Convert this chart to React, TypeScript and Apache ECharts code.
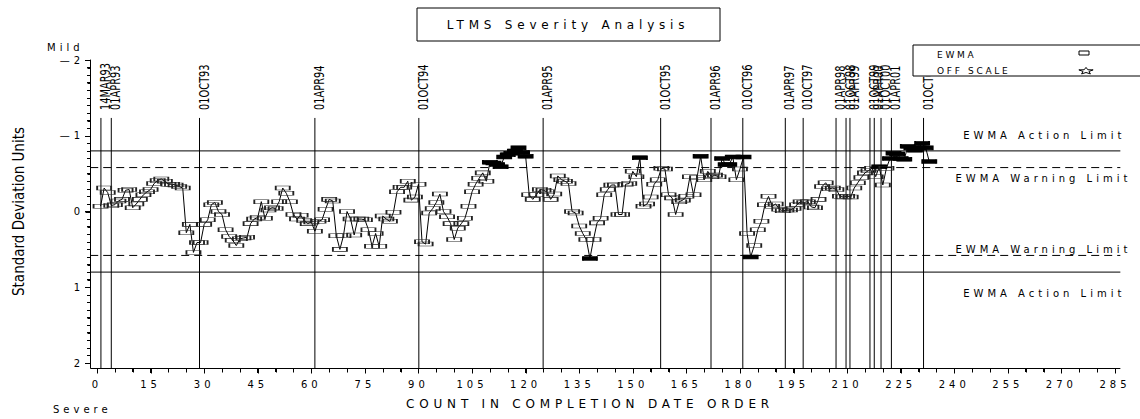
import React, { useEffect, useRef } from 'react';
import * as echarts from 'echarts';

// ---------- DATA ----------
const EWMA_VALUES: number[] = [
  -0.07, -0.31, -0.25, -0.08, -0.09, -0.14, -0.16, -0.28, -0.29, -0.05,
  -0.10, -0.16, -0.22, -0.26, -0.29, -0.37, -0.41, -0.43, -0.40, -0.36,
  -0.36, -0.35, -0.33, -0.31, 0.28, 0.17, 0.54, 0.41, 0.41, 0.17,
  0.11, -0.09, -0.12, 0.00, 0.04, 0.24, 0.33, 0.38, 0.45, 0.36,
  0.35, 0.34, 0.16, 0.10, 0.08, -0.13, 0.09, -0.02, -0.05, -0.04,
  -0.13, -0.31, -0.24, -0.13, 0.04, 0.10, 0.05, 0.12, 0.16, 0.14,
  0.26, 0.13, 0.11, -0.03, -0.16, -0.14, 0.32, 0.50, 0.32, 0.00,
  0.10, 0.31, 0.10, 0.10, 0.11, 0.24, 0.46, 0.29, 0.46, 0.06,
  0.10, 0.13, 0.01, -0.26, -0.32, -0.32, -0.40, -0.15, -0.19, -0.36,
  0.40, 0.43, 0.02, -0.04, -0.12, -0.23, 0.00, 0.07, 0.16, 0.37,
  0.22, 0.16, 0.09, -0.07, -0.26, -0.36, -0.44, -0.51, -0.40, -0.65,
  -0.64, -0.62, -0.59, -0.72, -0.75, -0.77, -0.80, -0.84, -0.78, -0.73,
  -0.22, -0.16, -0.22, -0.29, -0.28, -0.26, -0.16, -0.23, -0.47, -0.42,
  -0.40, -0.37, 0.00, 0.02, 0.19, 0.29, 0.37, 0.62, 0.37, 0.15,
  0.09, -0.22, -0.29, -0.35, -0.35, 0.04, 0.04, -0.36, -0.37, -0.53,
  -0.46, -0.71, -0.07, -0.10, -0.19, -0.36, -0.42, -0.57, -0.56, -0.22,
  -0.18, 0.04, -0.13, -0.15, -0.20, -0.46, -0.22, -0.45, -0.73, -0.42,
  -0.53, -0.46, -0.48, -0.46, -0.70, -0.62, -0.62, -0.72, -0.42, -0.56,
  -0.72, 0.29, 0.60, 0.45, 0.24, 0.13, -0.09, -0.20, -0.07, -0.10,
  -0.03, -0.01, -0.02, -0.02, -0.04, -0.09, -0.13, -0.12, -0.13, -0.06,
  -0.05, -0.16, -0.33, -0.38, -0.30, -0.31, -0.29, -0.20, -0.19, -0.20,
  -0.19, -0.31, -0.38, -0.45, -0.51, -0.54, -0.57, -0.46, -0.59, -0.35,
  -0.57, -0.70, -0.77, -0.76, -0.70, -0.69, -0.86, -0.84, -0.81, -0.84,
  -0.90, -0.84, -0.66,
];
const COUNTS: number[] = EWMA_VALUES.map((_, i) => i + 1);

const DATE_LINE_COUNTS: number[] = [
  1.1, 4, 28.7, 61, 90.1, 124.9, 157.8, 171.9, 180.8, 192.7,
  197.7, 206.9, 209.7, 210.8, 216.4, 217.6, 219.5, 222.4, 231.4,
];
const DATE_LABELS: string[] = [
  '14MAR93', '01APR93', '01OCT93', '01APR94', '01OCT94', '01APR95', '01OCT95',
  '01APR96', '01OCT96', '01APR97', '01OCT97', '01APR98', '01OCT98', '01APR99',
  '01OCT99', '01APR00', '01OCT00', '01APR01', '01OCT01',
];

const ACTION_LIMIT = 0.8;
const WARNING_LIMIT = 0.58;
const LIMIT_VALUES: number[] = [-ACTION_LIMIT, -WARNING_LIMIT, WARNING_LIMIT, ACTION_LIMIT];
const LIMIT_TEXTS: string[] = ['EWMA Action Limit', 'EWMA Warning Limit', 'EWMA Warning Limit', 'EWMA Action Limit'];

const X_MIN = 0;
const X_MAX = 285;
const X_INTERVAL = 15;
const X_MINOR_STEP = 5;
const Y_MIN = -2;
const Y_MAX = 2;
const Y_INTERVAL = 1;
const Y_MINOR_PER_UNIT = 10;

const TITLE = 'LTMS Severity Analysis';
const X_NAME = 'COUNT IN COMPLETION DATE ORDER';
const Y_NAME = 'Standard Deviation Units';
const LEGEND_ITEMS = ['EWMA', 'OFF SCALE'];

// ---------- STYLE ----------
const WIDE = 'Verdana, "DejaVu Sans", sans-serif';
const WIDE2 = 'Tahoma, "DejaVu Sans", sans-serif';
const NARROW = '"Liberation Sans Narrow", "DejaVu Sans Condensed", "Arial Narrow", sans-serif';

const LIMIT_X_FROM = -1.9;
const LIMIT_X_TO = 286.5;
const LIMIT_DASH: (number[] | null)[] = [null, [8, 5], [8, 5], null];
const LIMIT_LABEL_DY: number[] = [-15.5, 10.5, -5.5, 21];
const LIMIT_LABEL_DX: number[] = [5, 11, 11, 5];
const X_AXIS_OFFSET = 5;
const Y_AXIS_OFFSET = 7;

const css = `
body { margin: 0; }
text[style*="Verdana"] { letter-spacing: 0.4em; }
text[style*="Tahoma"] { letter-spacing: 0.3em; }
`;

function starPoints(cx: number, cy: number, rx: number, ry: number): number[][] {
  const pts: number[][] = [];
  for (let i = 0; i < 10; i++) {
    const a = -Math.PI / 2 + (i * Math.PI) / 5;
    const f = i % 2 === 0 ? 1 : 0.42;
    pts.push([cx + Math.cos(a) * rx * f, cy + Math.sin(a) * ry * f]);
  }
  return pts;
}

const crisp = (v: number) => Math.round(v) + 0.5;

function baseGraphic(): any[] {
  return [
    {
      type: 'rect',
      shape: { x: 417, y: 8, width: 303, height: 33 },
      style: { fill: '#fff', stroke: '#000', lineWidth: 1 },
      z: 10,
    },
    {
      type: 'text',
      x: 568,
      y: 25,
      z: 11,
      style: { text: TITLE, fill: '#000', font: `12px ${WIDE}`, align: 'center', verticalAlign: 'middle' },
    },
    {
      type: 'rect',
      shape: { x: 913, y: 45, width: 240, height: 31 },
      style: { fill: '#fff', stroke: '#000', lineWidth: 1 },
      z: 100,
    },
    {
      type: 'text',
      x: 937,
      y: 55,
      z: 101,
      style: { text: LEGEND_ITEMS[0], fill: '#000', font: `9px ${WIDE2}`, align: 'left', verticalAlign: 'middle' },
    },
    {
      type: 'text',
      x: 937,
      y: 71,
      z: 101,
      style: { text: LEGEND_ITEMS[1], fill: '#000', font: `9px ${WIDE2}`, align: 'left', verticalAlign: 'middle' },
    },
    {
      type: 'rect',
      shape: { x: 1079, y: 51, width: 10, height: 4 },
      style: { fill: 'none', stroke: '#000', lineWidth: 1 },
      z: 101,
    },
    {
      type: 'polygon',
      shape: { points: starPoints(1086, 71, 7.5, 3.6) },
      style: { fill: 'none', stroke: '#000', lineWidth: 1 },
      z: 101,
    },
    {
      type: 'text',
      x: 47,
      y: 47,
      style: { text: 'Mild', fill: '#000', font: `10px ${WIDE}`, align: 'left', verticalAlign: 'middle' },
    },
    {
      type: 'text',
      x: 53,
      y: 409,
      style: { text: 'Severe', fill: '#000', font: `10px ${WIDE}`, align: 'left', verticalAlign: 'middle' },
    },
  ];
}

function buildOption(): any {
  const hollow = { color: 'transparent', borderColor: '#222', borderWidth: 1 };
  const filled = { color: '#000', borderColor: '#000', borderWidth: 1 };

  return {
    animation: false,
    backgroundColor: '#fff',
    grid: { left: 97, right: 25, top: 60, bottom: 56 },
    xAxis: {
      type: 'value',
      min: X_MIN,
      max: X_MAX,
      interval: X_INTERVAL,
      offset: X_AXIS_OFFSET,
      axisLine: { show: true, onZero: false, lineStyle: { color: '#000', width: 1 } },
      axisTick: { show: true, length: 5, lineStyle: { color: '#000' } },
      minorTick: { show: true, splitNumber: 3, length: 4, lineStyle: { color: '#000' } },
      splitLine: { show: false },
      axisLabel: { color: '#000', fontFamily: WIDE, fontSize: 10, margin: 11 },
      name: X_NAME,
      nameLocation: 'middle',
      nameGap: 30,
      nameTextStyle: { color: '#000', fontFamily: WIDE, fontSize: 12, padding: [0, 32, 0, 0] },
    },
    yAxis: {
      type: 'value',
      min: Y_MIN,
      max: Y_MAX,
      interval: Y_INTERVAL,
      inverse: true,
      offset: Y_AXIS_OFFSET,
      axisLine: { show: true, onZero: false, lineStyle: { color: '#000', width: 1 } },
      axisTick: { show: true, length: 5, lineStyle: { color: '#000' } },
      minorTick: { show: true, splitNumber: 10, length: 3, lineStyle: { color: '#000' } },
      splitLine: { show: false },
      axisLabel: {
        color: '#000',
        fontFamily: WIDE,
        fontSize: 10,
        margin: 6,
        formatter: (v: number) => (v < 0 ? '\u2014' + Math.abs(v) : String(v)),
      },
      name: Y_NAME,
      nameLocation: 'middle',
      nameRotate: 90,
      nameGap: 64,
      nameTextStyle: { color: '#000', fontFamily: NARROW, fontSize: 15 },
    },
    graphic: baseGraphic(),
    series: [
      // date reference lines with rotated labels
      {
        type: 'custom',
        silent: true,
        clip: false,
        z: 1,
        data: DATE_LINE_COUNTS.map((c) => [c, -1.235]),
        renderItem: (params: any, api: any) => {
          const x = api.value(0);
          const top = api.coord([x, -1.235]);
          const bottom = api.coord([x, Y_MAX]);
          return {
            type: 'group',
            children: [
              {
                type: 'line',
                shape: { x1: top[0], y1: top[1], x2: top[0], y2: bottom[1] + X_AXIS_OFFSET },
                style: { stroke: '#000', lineWidth: 1 },
              },
              {
                type: 'text',
                x: top[0] + 4,
                y: top[1] - 8,
                rotation: Math.PI / 2,
                scaleX: 0.78,
                style: {
                  text: DATE_LABELS[params.dataIndex],
                  fill: '#000',
                  font: `14px ${NARROW}`,
                  align: 'left',
                  verticalAlign: 'middle',
                },
              },
            ],
          };
        },
      },
      // EWMA action / warning limits
      {
        type: 'custom',
        silent: true,
        clip: false,
        z: 2,
        data: LIMIT_VALUES.map((v) => [LIMIT_X_TO, v]),
        renderItem: (params: any, api: any) => {
          const i = params.dataIndex;
          const v = api.value(1);
          const a = api.coord([LIMIT_X_FROM, v]);
          const b = api.coord([LIMIT_X_TO, v]);
          const dash = LIMIT_DASH[i];
          return {
            type: 'group',
            children: [
              {
                type: 'line',
                shape: { x1: a[0], y1: a[1], x2: b[0], y2: b[1] },
                style: { stroke: '#000', lineWidth: 1, lineDash: dash || undefined },
              },
              {
                type: 'text',
                x: b[0] + LIMIT_LABEL_DX[i],
                y: b[1] + LIMIT_LABEL_DY[i],
                style: {
                  text: LIMIT_TEXTS[i],
                  fill: '#000',
                  font: `10px ${WIDE}`,
                  align: 'right',
                  verticalAlign: 'middle',
                },
              },
            ],
          };
        },
      },
      {
        type: 'line',
        name: 'EWMA',
        z: 3,
        clip: false,
        symbol: 'rect',
        symbolSize: [14, 4],
        showAllSymbol: true,
        lineStyle: { color: '#000', width: 1 },
        itemStyle: hollow,
        data: EWMA_VALUES.map((v, i) => ({
          value: [COUNTS[i], v],
          itemStyle: Math.abs(v) > WARNING_LIMIT ? filled : hollow,
        })),
      },
    ],
  };
}

// axis lines and ticks, placed through the chart's own coordinate conversion
function axisGraphic(chart: echarts.ECharts): any[] {
  const toPx = (x: number, y: number) => chart.convertToPixel({ gridIndex: 0 } as any, [x, y]) as number[];
  const origin = toPx(X_MIN, Y_MAX);
  const topLeft = toPx(X_MIN, Y_MIN);
  const right = toPx(LIMIT_X_TO, Y_MAX);
  if (!origin || !topLeft || !right) return [];
  const yAxisX = crisp(origin[0] - Y_AXIS_OFFSET);
  const xAxisY = crisp(origin[1] + X_AXIS_OFFSET);
  const children: any[] = [];
  const st = () => ({ stroke: '#000', lineWidth: 1 });
  children.push({ type: 'line', shape: { x1: yAxisX, y1: xAxisY, x2: right[0], y2: xAxisY }, style: st() });
  children.push({ type: 'line', shape: { x1: yAxisX, y1: topLeft[1], x2: yAxisX, y2: xAxisY }, style: st() });
  const nX = Math.round((X_MAX - X_MIN) / X_MINOR_STEP);
  for (let k = 0; k <= nX; k++) {
    const t = X_MIN + k * X_MINOR_STEP;
    const px = crisp(toPx(t, Y_MAX)[0]);
    const len = t % X_INTERVAL === 0 ? 5 : 4;
    children.push({ type: 'line', shape: { x1: px, y1: xAxisY, x2: px, y2: xAxisY + len }, style: st() });
  }
  const nY = Math.round((Y_MAX - Y_MIN) * Y_MINOR_PER_UNIT);
  for (let k = 0; k <= nY; k++) {
    const v = Y_MIN + k / Y_MINOR_PER_UNIT;
    const py = crisp(toPx(X_MIN, v)[1]);
    const len = k % Y_MINOR_PER_UNIT === 0 ? 5 : 3;
    children.push({ type: 'line', shape: { x1: yAxisX - len, y1: py, x2: yAxisX, y2: py }, style: st() });
  }
  return [{ type: 'group', silent: true, z: 60, children }];
}

export default function App() {
  const ref = useRef<HTMLDivElement>(null);
  useEffect(() => {
    if (!ref.current) return;
    const chart = echarts.init(ref.current, null, { renderer: 'svg' });
    chart.setOption(buildOption());
    try {
      const extra = axisGraphic(chart);
      chart.setOption({ graphic: [...baseGraphic(), ...extra] });
    } catch (e) {
      // keep the chart even if conversion fails
    }
    return () => chart.dispose();
  }, []);
  return (
    <>
      <style>{css}</style>
      <div ref={ref} style={{ width: 1140, height: 419 }} />
    </>
  );
}
